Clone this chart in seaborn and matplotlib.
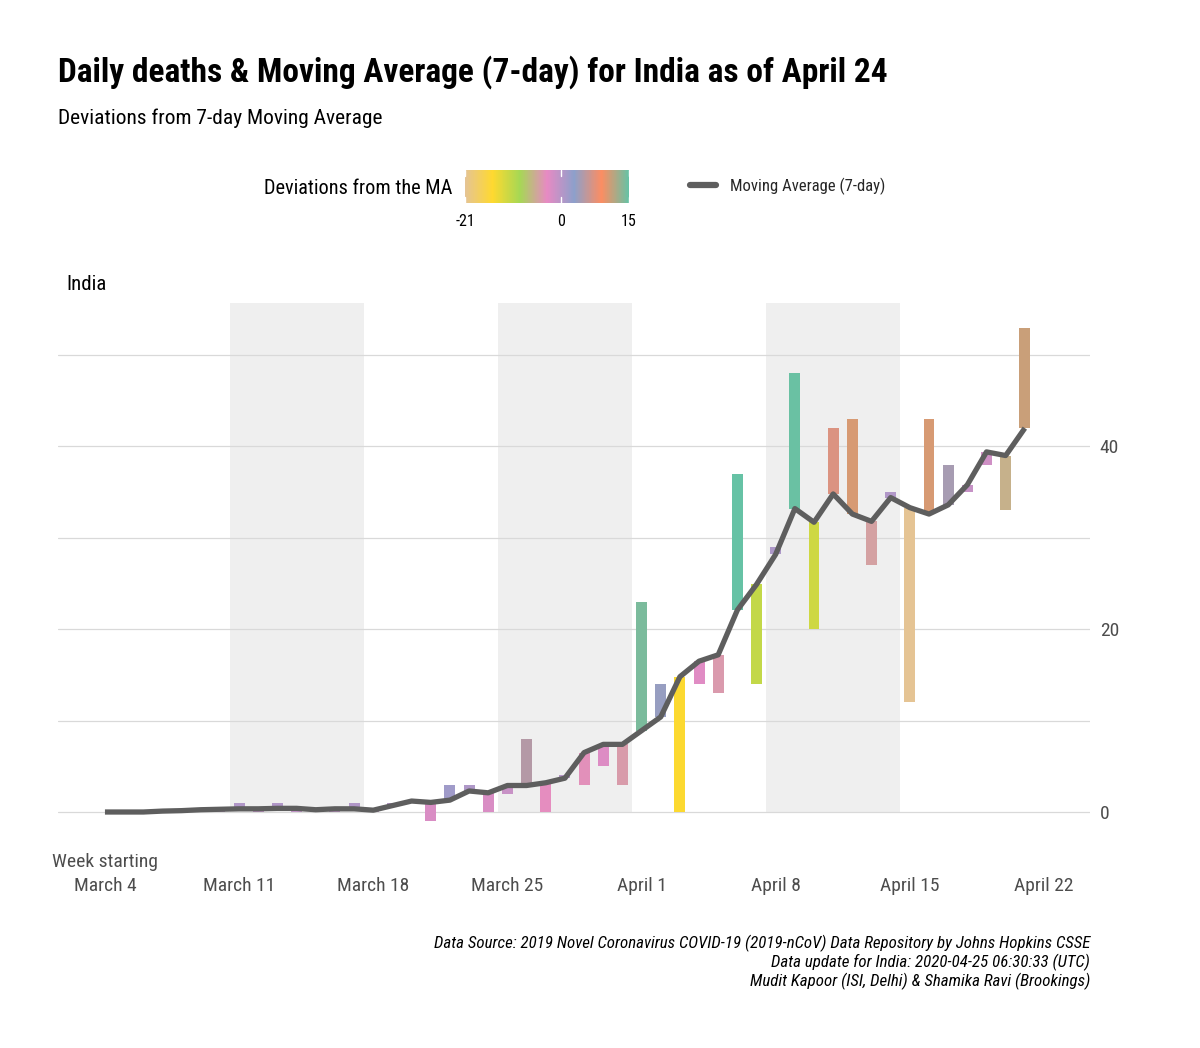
import numpy as np
import pandas as pd
import seaborn as sns
import matplotlib
matplotlib.use("Agg")
import matplotlib.pyplot as plt
from matplotlib import font_manager as fm
from matplotlib.colors import LinearSegmentedColormap, Normalize
from matplotlib.cm import ScalarMappable
from matplotlib.lines import Line2D

# daily deaths (India) and 7-day moving average, March 4 .. April 21
deaths = [0, 0, 0, 0, 0, 0, 0, 1, 0, 1, 0, 0, 0, 1, 0, 1, 1, -1, 3, 3, 0, 2, 8, 0, 4,
          3, 5, 3, 23, 14, 0, 14, 13, 37, 14, 29, 48, 20, 42, 43, 27, 35, 12, 43, 38,
          35, 38, 33, 53]
moving_avg = [0, 0, 0, 0.1, 0.15, 0.25, 0.3, 0.35, 0.35, 0.4, 0.4, 0.25, 0.35, 0.35, 0.2,
              0.7, 1.2, 1.05, 1.3, 2.3, 2.1, 2.9, 2.9, 3.2, 3.7, 6.5, 7.4, 7.4, 8.9, 10.4,
              14.8, 16.5, 17.2, 22.1, 24.9, 28.2, 33.2, 31.7, 34.8, 32.6, 31.8, 34.4, 33.3,
              32.6, 33.6, 35.8, 39.4, 39.0, 42.0]
start_date = "2020-03-04"
week_labels = ["March 4", "March 11", "March 18", "March 25", "April 1", "April 8",
               "April 15", "April 22"]
shaded_weeks = ["2020-03-11", "2020-03-25", "2020-04-08"]
set2_rev = ["#E5C494", "#FFD92F", "#A6D854", "#E78AC3", "#8DA0CB", "#FC8D62", "#66C2A5"]

sns.set_theme(style="white")
names = {f.name for f in fm.fontManager.ttflist}
candidates = ["Liberation Sans Narrow", "Roboto Condensed", "Open Sans Condensed",
              "DejaVu Sans Condensed", "Noto Sans Condensed", "Liberation Sans"]
font = next(c for c in candidates if c in names)
narrow = font != "Liberation Sans"
plt.rcParams["font.family"] = [font, "DejaVu Sans"]
k = 1.0 if narrow else 0.92  # shrink text a bit if no condensed face

df = pd.DataFrame({"date": pd.date_range(start_date, periods=len(deaths)),
                   "deaths": deaths, "ma": moving_avg})
df["dev"] = df["deaths"] - df["ma"]

cmap = LinearSegmentedColormap.from_list("set2rev", set2_rev)
norm = Normalize(vmin=-21, vmax=15)

fig = plt.figure(figsize=(12, 10.48), dpi=100)
ax = fig.add_axes([58 / 1200, 0.1903, 1032 / 1200, 0.532])

d0 = pd.Timestamp(start_date)
day = pd.Timedelta(days=1)
band_top = df["deaths"].max() * 1.05
for wk in shaded_weeks:
    w = pd.Timestamp(wk)
    ax.fill_between([w - 0.5 * day, w + 6.5 * day], 0, band_top, color="#EFEFEF", lw=0, zorder=0)

ax.bar(df["date"], df["dev"], bottom=df["ma"], width=0.57, linewidth=0,
       color=cmap(norm(df["dev"])), zorder=2)
sns.lineplot(data=df, x="date", y="ma", ax=ax, color="#5E5E5E", lw=3.8, zorder=3,
             solid_joinstyle="round", solid_capstyle="butt")

ax.set_xlim(d0 - 2.45 * day, d0 + 51.4 * day)
ax.set_ylim(-4, 57)
ticks = [d0 + 7 * i * day for i in range(len(week_labels))]
ax.set_xticks(ticks)
ax.set_xticklabels(["Week starting\n" + week_labels[0]] + ["\n" + w for w in week_labels[1:]],
                   fontsize=14 * k, color="#4D4D4D", linespacing=1.4)
ax.yaxis.tick_right()
ax.set_yticks([0, 20, 40])
ax.set_yticks([10, 30, 50], minor=True)
ax.set_yticklabels(["0", "20", "40"], fontsize=14 * k, color="#4D4D4D")
ax.tick_params(axis="both", which="both", length=0)
ax.tick_params(axis="x", pad=3.5)
ax.tick_params(axis="y", pad=7)
ax.grid(axis="y", which="both", color="#D9D9D9", lw=0.9)
ax.grid(axis="x", visible=False)
ax.set_axisbelow(True)
ax.set(xlabel="", ylabel="")
sns.despine(ax=ax, left=True, bottom=True, right=True, top=True)

# titles
fig.text(58 / 1200, 1 - 72 / 1048, "Daily deaths & Moving Average (7-day) for India as of April 24",
         fontsize=24 * (1.0 if narrow else 0.85), fontweight="bold", va="center", ha="left",
         color="black")
fig.text(58 / 1200, 1 - 118 / 1048, "Deviations from 7-day Moving Average",
         fontsize=15.4 * k, va="center", ha="left", color="black")
fig.text(66 / 1200, 1 - 284 / 1048, "India", fontsize=15 * k, va="center", ha="left",
         color="black")

# colour legend
fig.text(452 / 1200, 1 - 188 / 1048, "Deviations from the MA", fontsize=14.6 * k,
         va="center", ha="right", color="black")
cax = fig.add_axes([465 / 1200, 1 - 203 / 1048, 164 / 1200, 33 / 1048])
cb = fig.colorbar(ScalarMappable(norm=norm, cmap=cmap), cax=cax, orientation="horizontal")
cb.outline.set_visible(False)
cb.set_ticks([-21, 0, 15])
cb.set_ticklabels(["-21", "0", "15"])
cax.tick_params(length=0, labelsize=11.5 * k, pad=8, colors="black")
for v in [-21, 0, 15]:
    cax.plot([v, v], [0, 0.18], color="white", lw=1)
    cax.plot([v, v], [0.82, 1], color="white", lw=1)

# line legend
fig.legend(handles=[Line2D([], [], color="#5E5E5E", lw=4.5)], labels=["Moving Average (7-day)"],
           loc="center left", bbox_to_anchor=(690 / 1200, 1 - 186 / 1048), frameon=False,
           fontsize=12 * k, handlelength=1.55, handletextpad=0.85, borderpad=0, borderaxespad=0)

# caption
caption = ["Data Source: 2019 Novel Coronavirus COVID-19 (2019-nCoV) Data Repository by Johns Hopkins CSSE",
           "Data update for India: 2020-04-25 06:30:33 (UTC)",
           "Mudit Kapoor (ISI, Delhi) & Shamika Ravi (Brookings)"]
for i, line in enumerate(caption):
    fig.text(1090 / 1200, 1 - (943 + 19 * i) / 1048, line, fontsize=12.2 * k, style="italic",
             va="center", ha="right", color="black")

fig.savefig("out.png", dpi=100, facecolor="white")
